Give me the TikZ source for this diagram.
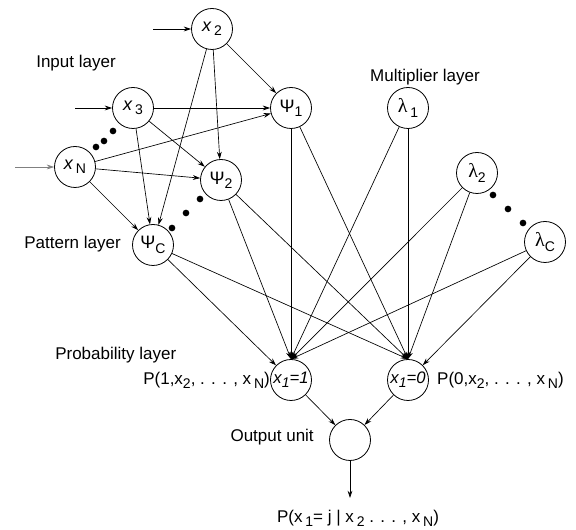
\documentclass[tikz,border=0pt]{standalone}
\usepackage{fontspec}
\setmainfont{Liberation Sans}
\newfontfamily\grk{Liberation Serif}
\usetikzlibrary{arrows.meta}
\newcommand\sbs[1]{\raisebox{-0.45ex}{\fontsize{10.5}{12}\selectfont #1}}
\begin{document}
\begin{tikzpicture}[x=0.75pt,y=-0.75pt,
  unit/.style={circle,draw,line width=0.6pt,minimum size=30.75pt,inner sep=0pt,font=\fontsize{13.5}{15}\selectfont},
  conn/.style={line width=0.5pt,-{Stealth[length=5.5pt,width=3.6pt]}},
  feed/.style={line width=0.6pt,-{Stealth[length=5.5pt,width=3.6pt]}},
  dotmark/.style={circle,fill,inner sep=0pt,minimum size=5pt},
  lbl/.style={font=\fontsize{12.75}{15}\selectfont,inner sep=0pt}]
\useasboundingbox (0,0) rectangle (576,530);

% input layer
\node[unit] (x2) at (212,29) {{\itshape x}\,\sbs{2}};
\node[unit] (x3) at (133,108) {{\itshape x}\,\sbs{3}};
\node[unit] (xN) at (75,167) {{\itshape x}\,\sbs{N}};
% pattern layer
\node[unit] (p1) at (291,108) {Ψ\sbs{1}};
\node[unit] (p2) at (221,180) {Ψ\sbs{2}};
\node[unit] (pC) at (153,245) {Ψ\sbs{C}};
% multiplier layer
\node[unit] (l1) at (408,108) {{\grk\fontsize{15}{16}\selectfont λ}\,\sbs{1}};
\node[unit] (l2) at (477,173) {{\grk\fontsize{15}{16}\selectfont λ}\sbs{2}};
\node[unit] (lC) at (545,242) {{\grk\fontsize{15}{16}\selectfont λ}\sbs{C}};
% probability layer
\node[unit,font=\fontsize{12.5}{13}\selectfont\itshape] (q1) at (291,380) {x\sbs{1}=1};
\node[unit,font=\fontsize{12.5}{13}\selectfont\itshape] (q0) at (408,380) {x\sbs{1}=0};
% output
\node[unit] (out) at (350,440) {};

% dots
\node[dotmark] (d1) at (96,147) {};
\node[dotmark] (d2) at (104,141) {};
\node[dotmark] (d3) at (113,131) {};
\node[dotmark] (d4) at (200,199) {};
\node[dotmark] (d5) at (186,213) {};
\node[dotmark] (d6) at (172,228) {};
\node[dotmark] (d7) at (493,195) {};
\node[dotmark] (d8) at (508,209) {};
\node[dotmark] (d9) at (523,223) {};

% input feeds
\coordinate (i2) at (153,29);
\coordinate (i3) at (75,108);
\coordinate (iN) at (15,167);
\draw[feed] (i2) -- (x2);
\draw[feed] (i3) -- (x3);
\draw[feed,gray,line width=0.45pt] (iN) -- (xN);

% input -> pattern
\foreach \s in {x2,x3,xN}{
  \foreach \t in {p1,p2,pC}{
    \draw[conn] (\s) -- (\t);
  }
}

% pattern / multiplier -> probability
\foreach \s in {p1,p2,l1,l2,lC}{
  \draw[conn] (\s) -- (q1.north);
}
\foreach \s in {p1,p2,pC,l1,l2}{
  \draw[conn] (\s) -- (q0.north);
}
\draw[conn] (pC) -- (q1);
\draw[conn] (lC) -- (q0);
% probability -> output
\draw[conn] (q1) -- (out);
\draw[conn] (q0) -- (out);
\coordinate (res) at (350,498);
\draw[conn] (out) -- (res);

% labels
\node[lbl] (tin) at (76,63) {Input layer};
\node[lbl,anchor=east] (tpat) at (121,244) {Pattern layer};
\node[lbl] (tmul) at (425,77) {Multiplier layer};
\node[lbl,anchor=west] (tprob) at (55,355) {Probability layer};
\node[lbl,anchor=east] (tp1) at (q1.west) {P(1,x\sbs{2}, . . . , x\,\sbs{N})};
\node[lbl,anchor=west] (tp0) at ([xshift=6pt]q0.east) {P(0,x\sbs{2}, . . . , x\,\sbs{N})};
\node[lbl,anchor=east] (tout) at (314,437) {Output unit};
\node[lbl] (tres) at (358,518) {P(x\,\sbs{1}= j | x\,\sbs{2} . . . , x\,\sbs{N})};
\end{tikzpicture}
\end{document}
